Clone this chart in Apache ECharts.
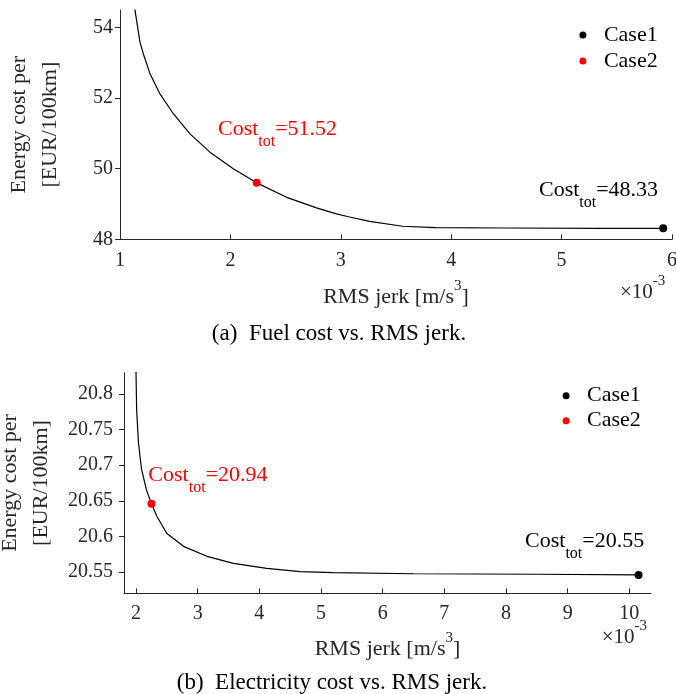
<!DOCTYPE html>
<html><head><meta charset="utf-8">
<script src="https://cdn.jsdelivr.net/npm/echarts@6/dist/echarts.min.js"></script>
<style>html,body{margin:0;padding:0;background:#fff}#c{width:676px;height:694px}</style>
</head><body><div id="c"></div>
<script>
const FONT = 'Liberation Serif';
const AX = '#262626';

// (a) Fuel cost vs RMS jerk (x in 1e-3 m/s^3)
const fuelJerk = [1.12, 1.136, 1.181, 1.211, 1.272, 1.362, 1.483, 1.634, 1.815, 2.026, 2.238, 2.51, 2.78, 2.96, 3.07, 3.26, 3.56, 3.86, 4.47, 5.37, 5.92];
const fuelCost = [54.9, 54.49, 53.59, 53.26, 52.69, 52.12, 51.56, 50.99, 50.47, 50.0, 49.60, 49.19, 48.89, 48.72, 48.64, 48.51, 48.37, 48.33, 48.32, 48.31, 48.31];
const fuelCase1 = [5.92, 48.31];
const fuelCase2 = [2.238, 49.60];
const fuelCase1Label = '48.33';
const fuelCase2Label = '51.52';
const fuelXTicks = [1, 2, 3, 4, 5, 6];
const fuelYTicks = [48, 50, 52, 54];

// (b) Electricity cost vs RMS jerk
const elecJerk = [1.995, 2.0, 2.01, 2.04, 2.09, 2.17, 2.25, 2.34, 2.50, 2.77, 3.15, 3.58, 4.12, 4.66, 5.2, 6.5, 8.49, 10.15];
const elecCost = [20.86, 20.83, 20.778, 20.731, 20.694, 20.665, 20.646, 20.628, 20.604, 20.586, 20.572, 20.562, 20.555, 20.5504, 20.549, 20.5475, 20.5468, 20.5458];
const elecCase1 = [10.15, 20.5458];
const elecCase2 = [2.25, 20.646];
const elecCase1Label = '20.55';
const elecCase2Label = '20.94';
const elecXTicks = [2, 3, 4, 5, 6, 7, 8, 9, 10];
const elecYTicks = [20.55, 20.6, 20.65, 20.7, 20.75, 20.8];

const xName = '{a|RMS jerk [m/s}{s|3}{a|]}';
const yName = 'Energy cost per\n[EUR/100km]';
const captionA = '(a)  Fuel cost vs. RMS jerk.';
const captionB = '(b)  Electricity cost vs. RMS jerk.';

const zip = (xs, ys) => xs.map((x, i) => [x, ys[i]]);
const tickRich = {t: {fontFamily: FONT, fontSize: 20, lineHeight: 20, color: AX}};

function xAxis(gi, min, max, ticks, nameGap, margin) {
  return {
    type: 'value', gridIndex: gi, min, max,
    name: xName, nameLocation: 'middle', nameGap,
    nameTextStyle: {
      color: AX, fontFamily: FONT,
      rich: {
        a: {fontFamily: FONT, fontSize: 22, lineHeight: 22, color: AX, padding: [8, 0, 0, 0], verticalAlign: 'top'},
        s: {fontFamily: FONT, fontSize: 15, lineHeight: 15, color: AX, verticalAlign: 'top'}
      }
    },
    axisLine: {show: true, onZero: false, lineStyle: {color: AX, width: 1}},
    axisTick: {show: true, inside: true, length: 5, customValues: ticks, lineStyle: {color: AX, width: 1}},
    axisLabel: {show: true, customValues: ticks, margin, color: AX, fontFamily: FONT, fontSize: 20,
      hideOverlap: false, formatter: v => '{t|' + v + '}', rich: tickRich},
    splitLine: {show: false}
  };
}
function yAxis(gi, min, max, ticks, nameGap, margin) {
  return {
    type: 'value', gridIndex: gi, min, max,
    name: yName, nameLocation: 'middle', nameRotate: 90, nameGap,
    nameTextStyle: {color: AX, fontFamily: FONT, fontSize: 22, lineHeight: 31},
    axisLine: {show: true, onZero: false, lineStyle: {color: AX, width: 1}},
    axisTick: {show: true, inside: false, length: 5, customValues: ticks, lineStyle: {color: AX, width: 1}},
    axisLabel: {show: true, customValues: ticks, margin, color: AX, fontFamily: FONT, fontSize: 20,
      hideOverlap: false, formatter: v => '{t|' + v + '}', rich: tickRich},
    splitLine: {show: false}
  };
}
function costLabel(value, color, offset) {
  return {
    show: true, position: 'inside', align: 'left', verticalAlign: 'top', offset,
    color, opacity: 1, fontFamily: FONT, textBorderWidth: 0, textBorderColor: 'transparent',
    formatter: '{a|Cost}{b|tot}{a|=' + value + '}',
    rich: {
      a: {fontFamily: FONT, fontSize: 22, lineHeight: 22, color, verticalAlign: 'top', textBorderWidth: 0},
      b: {fontFamily: FONT, fontSize: 16, lineHeight: 16, color, verticalAlign: 'top', padding: [16, 0, 0, 0], textBorderWidth: 0}
    }
  };
}
function curve(gi, xs, ys) {
  return {type: 'line', name: 'front', xAxisIndex: gi, yAxisIndex: gi, data: zip(xs, ys),
    symbol: 'none', smooth: false, clip: true, silent: true,
    lineStyle: {color: '#000', width: 1.2, opacity: 1}, z: 2};
}
function point(gi, name, pt, color, lbl, offset) {
  return {type: 'scatter', name, xAxisIndex: gi, yAxisIndex: gi, data: [pt],
    symbol: 'circle', symbolSize: 8, itemStyle: {color, opacity: 1}, silent: true, z: 3,
    label: costLabel(lbl, color, offset)};
}
function legend(left, top, lh) {
  return {data: ['Case1', 'Case2'], orient: 'vertical', left, top, padding: 0, itemGap: 0,
    itemWidth: 32, itemHeight: 7, icon: 'circle', selectedMode: false,
    itemStyle: {opacity: 1},
    formatter: n => '{t|' + n + '}',
    textStyle: {fontFamily: FONT, fontSize: 22, lineHeight: lh, color: '#000',
      rich: {t: {fontFamily: FONT, fontSize: 22, lineHeight: lh, color: '#000'}}}};
}
function tenExp(x, y) {
  return {type: 'text', x, y, silent: true, style: {
    text: '{a|×10}{s|-3}', align: 'left', verticalAlign: 'top',
    rich: {
      a: {fontFamily: FONT, fontSize: 21, lineHeight: 21, fill: AX, padding: [8, 0, 0, 0], verticalAlign: 'top'},
      s: {fontFamily: FONT, fontSize: 15, lineHeight: 15, fill: AX, verticalAlign: 'top'}
    }}};
}
function caption(text, x, y) {
  return {type: 'text', x, y, silent: true, style: {text, align: 'center', verticalAlign: 'middle',
    fontFamily: FONT, fontSize: 23, fill: '#000'}};
}

const chart = echarts.init(document.getElementById('c'), null, {renderer: 'canvas'});
chart.setOption({
  animation: false,
  backgroundColor: '#fff',
  textStyle: {fontFamily: FONT},
  grid: [
    {left: 120, top: 10, width: 552, height: 229.3, containLabel: false, outerBoundsMode: 'none'},
    {left: 124, top: 372.7, width: 527, height: 220.6, containLabel: false, outerBoundsMode: 'none'}
  ],
  xAxis: [xAxis(0, 1, 6, fuelXTicks, 39, 11), xAxis(1, 1.805, 10.352, elecXTicks, 37, 10)],
  yAxis: [yAxis(0, 48, 54.5, fuelYTicks, 54.5, 7), yAxis(1, 20.52, 20.83, elecYTicks, 53.5, 11)],
  legend: [legend(579.4, 22, 26), legend(562.6, 383.2, 25)],
  series: [
    curve(0, fuelJerk, fuelCost),
    point(0, 'Case1', fuelCase1, '#000000', fuelCase1Label, [-124.2, -49.4]),
    point(0, 'Case2', fuelCase2, '#ff0000', fuelCase2Label, [-38.7, -64.6]),
    curve(1, elecJerk, elecCost),
    point(1, 'Case1', elecCase1, '#000000', elecCase1Label, [-113.5, -45]),
    point(1, 'Case2', elecCase2, '#ff0000', elecCase2Label, [-3.1, -39.4])
  ],
  graphic: [
    tenExp(620, 274), tenExp(601.7, 619),
    caption(captionA, 339, 334), caption(captionB, 332, 683)
  ]
});
</script></body></html>
